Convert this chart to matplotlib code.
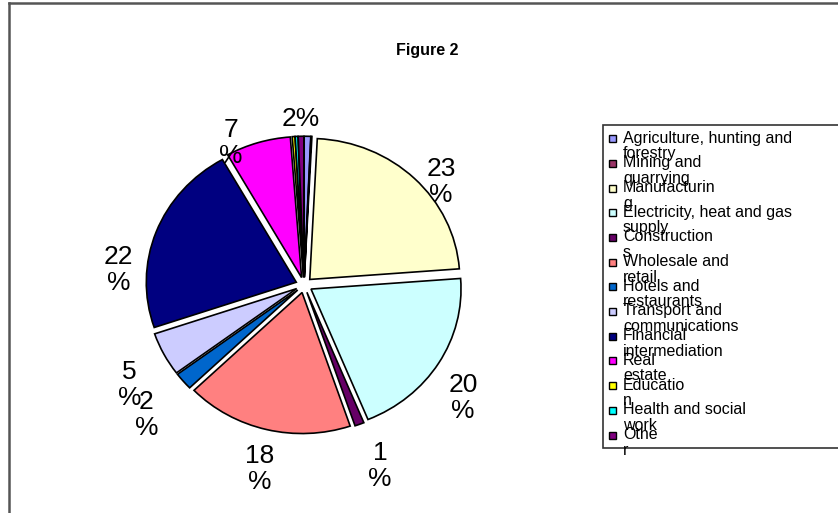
import numpy as np
import matplotlib
matplotlib.use("Agg")
import matplotlib.pyplot as plt
from matplotlib.patches import Rectangle
from matplotlib.lines import Line2D

plt.rcParams['font.family'] = ['Liberation Sans', 'DejaVu Sans']

# ---- data ----
categories = ["Agriculture, hunting and\nforestry", "Mining and\nquarrying", "Manufacturin\ng",
              "Electricity, heat and gas\nsupply", "Construction\ns", "Wholesale and\nretail",
              "Hotels and\nrestaurants", "Transport and\ncommunications", "Financial\nintermediation",
              "Real\nestate", "Educatio\nn", "Health and social\nwork", "Othe\nr"]
values = [0.7, 0.1, 23, 20, 1, 18, 2, 5, 22, 7, 0.3, 0.3, 0.6]
label_texts = ["", "", "23\n%", "20\n%", "1\n%", "18\n%", "2\n%", "5\n%", "22\n%", "7\n%", "", "", "2%"]
colors = ["#9999FF", "#993366", "#FFFFCC", "#CCFFFF", "#660066", "#FF8080", "#0066CC",
          "#CCCCFF", "#000080", "#FF00FF", "#FFFF00", "#00FFFF", "#800080"]
title = "Figure 2"

# ---- layout (pixels) ----
W, H = 838, 513
fig = plt.figure(figsize=(W / 100, H / 100), dpi=100)
fig.patch.set_facecolor("white")

cx, cy, Rx, Ry = 304, 285, 150, 141
ax = fig.add_axes([(cx - 1.25 * Rx) / W, (H - cy - 1.25 * Ry) / H, 2.5 * Rx / W, 2.5 * Ry / H])
ax.pie(values, colors=colors, explode=[0.055] * len(values), startangle=90, counterclock=False,
       wedgeprops=dict(edgecolor="black", linewidth=1.2))
ax.set_xlim(-1.25, 1.25)
ax.set_ylim(-1.25, 1.25)
ax.set_aspect("auto")
ax.axis("off")

# data labels (Excel-like placement: per-label angle nudge and radial distance)
label_nudge = [0, 0, 7, 5.5, -1, -1, -1, -3.6, -16, -9, 0, 0, 0]
label_dist = [1.2, 1.2, 1.17, 1.33, 1.38, 1.34, 1.4, 1.36, 1.24, 1.12, 1.2, 1.2, 1.18]
total = float(sum(values))
cum = np.cumsum([0] + values[:-1])
for i, txt in enumerate(label_texts):
    if not txt:
        continue
    theta = np.deg2rad(360 * (cum[i] + values[i] / 2) / total + label_nudge[i])
    d = label_dist[i]
    ax.text(d * np.sin(theta), d * np.cos(theta), txt, ha="center", va="center",
            fontsize=19, linespacing=1.12, clip_on=False)

# title
fig.text(427 / W, 1 - 50 / H, title, ha="center", va="center", fontsize=11.5, fontweight="bold")

# legend (drawn manually to mimic the overlapping wrapped entries)
fig.add_artist(Rectangle((603 / W, 1 - 448 / H), (W + 20 - 603) / W, (448 - 125) / H,
                         transform=fig.transFigure, facecolor="white", edgecolor="#333333",
                         linewidth=1.2, clip_on=False, zorder=1))
y0, pitch = 138.6, 24.7
for i, (lab, col) in enumerate(zip(categories, colors)):
    y = y0 + i * pitch
    fig.add_artist(Rectangle((609 / W, 1 - (y + 3.5) / H), 7 / W, 7 / H,
                             transform=fig.transFigure, facecolor=col, edgecolor="black",
                             linewidth=1.0, zorder=3))
    fig.text(623 / W, 1 - (y - 8) / H, lab, ha="left", va="top", fontsize=11.5,
             linespacing=1.05, zorder=4)

# outer frame lines
fig.add_artist(Line2D([9 / W, 9 / W], [0, 1 - 3 / H], transform=fig.transFigure,
                      color="#555555", linewidth=1.8))
fig.add_artist(Line2D([9 / W, 1], [1 - 3 / H, 1 - 3 / H], transform=fig.transFigure,
                      color="#555555", linewidth=1.8))

fig.savefig("out.png", dpi=100, facecolor="white")
